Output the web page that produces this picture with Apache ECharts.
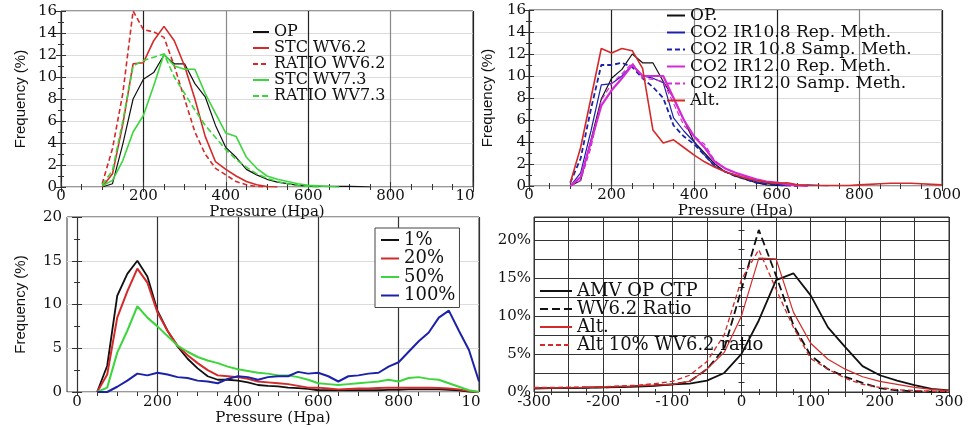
<!DOCTYPE html>
<html><head><meta charset="utf-8">
<script src="https://cdn.jsdelivr.net/npm/echarts@6/dist/echarts.min.js"></script>
<style>html,body{margin:0;padding:0;background:#fff}#c{width:968px;height:427px}</style>
</head><body><div id="c"></div>
<script>
// ---------- DATA ----------
// Panel 1 (top-left): pressure (hPa) vs frequency (%)
const pressureP1 = [100,125,150,175,200,225,250,275,300,325,350,375,400,425,450,475,500,525,550,575,600,625,650,675,700,725,750];
const opP1      = [0,0.3,3.9,8,9.8,10.4,12,11.2,11.2,9.4,8.2,5.6,3.6,2.7,1.6,1.1,0.7,0.45,0.3,0.15,0.1,0.05,0.05,0.05,0.05,0.03,0];
const stcWv62   = [0,1.2,5.7,11.2,11.3,13.3,14.6,13.3,11,8,4.6,2.3,1.6,1.0,0.5,0.2,0.05,0];
const ratioWv62 = [0.3,3.5,8.5,16,14.3,14.1,13.6,11,8,5,3,1.7,1.1,0.5,0.2,0.05,0];
const stcWv73   = [0.1,0.6,2.4,5,6.5,9.2,12.1,11,10.7,10.7,8.5,6.7,4.9,4.6,2.7,1.7,1.0,0.7,0.5,0.3,0.15,0.1,0.05,0];
const ratioWv73 = [0.2,1.5,6,11,11.5,11.8,12.1,10,8.5,7,5.6,4.5,3.4,2.5,1.8,1.2,0.8,0.5,0.3,0.15,0.05,0];

// Panel 2 (top-right)
const pressureP2 = [100,125,150,175,200,225,250,275,300,325,350,375,400,425,450,475,500,525,550,575,600,625,650,675,700,725,750,775,800,825,850,875,900,925,950,975,1000];
const opP2     = [0,0.5,4.2,7.9,9.8,10.6,12,11.2,11.2,9.5,8,6,4,3,2,1.3,0.9,0.6,0.3,0.1,0.05,0];
const co2Ir108Rep  = [0,1.2,5,9.2,9.3,10,11,10,9.8,9.4,6.2,5,4,2.8,1.8,1.3,1.0,0.7,0.4,0.25,0.15,0.1,0.05,0.1,0.05,0];
const co2Ir108Samp = [0.3,2.5,7,11,11,11.2,10.8,9.8,9,8,5.5,4.5,3.8,2.8,1.8,1.3,0.9,0.6,0.3,0.2,0.1,0.05,0];
const co2Ir120Rep  = [0,0.8,4,7.3,8.7,9.8,11,10,10,10,8,6,4.5,3.5,2.2,1.6,1.2,0.9,0.6,0.4,0.3,0.15,0.05,0];
const co2Ir120Samp = [0,0.5,3.5,7.8,9.3,10.2,11.2,9.8,9.7,9.5,7.5,5.5,4.5,3.8,2.3,1.6,1.2,0.8,0.6,0.4,0.3,0.1,0];
const altP2 = [0.3,3.5,8,12.5,12.1,12.5,12.3,10.7,5.1,3.9,4.2,3.5,2.8,2.2,1.7,1.3,1.0,0.7,0.5,0.35,0.25,0.3,0.1,0.05,0.05,0.05,0.05,0.05,0.1,0.15,0.2,0.25,0.25,0.25,0.2,0.15,0.1];

// Panel 3 (bottom-left)
const pressureP3 = [50,75,100,125,150,175,200,225,250,275,300,325,350,375,400,425,450,475,500,525,550,575,600,625,650,675,700,725,750,775,800,825,850,875,900,925,950,975,1000];
const pct1   = [0,3,11,13.5,15,13.2,9.3,7,5.2,3.8,2.7,1.8,1.4,1.4,1.3,1.1,0.8,0.7,0.65,0.5,0.45,0.35,0.2,0.2,0.2,0.2,0.2,0.2,0.2,0.25,0.25,0.3,0.3,0.3,0.3,0.25,0.2,0.05,0];
const pct20  = [0,2,8.5,11.5,14.1,12.5,9.1,7,5.3,4.2,3.3,2.5,1.9,1.8,1.7,1.5,1.2,1.1,1.0,0.9,0.7,0.5,0.5,0.4,0.3,0.35,0.4,0.4,0.45,0.5,0.5,0.5,0.5,0.5,0.45,0.4,0.3,0.1,0];
const pct50  = [0,0.5,4.5,7,9.8,8.5,7.5,6.4,5.3,4.6,4,3.6,3.3,2.9,2.6,2.4,2.2,2.1,1.9,1.9,1.7,1.4,1.0,0.9,0.8,0.9,1.0,1.1,1.2,1.4,1.2,1.6,1.7,1.5,1.4,1.0,0.6,0.2,0];
const pct100 = [0,0,0.6,1.3,2.1,1.9,2.2,2.0,1.7,1.6,1.3,1.2,1.0,1.5,1.8,1.7,1.4,1.7,1.8,1.8,2.3,2.1,2.2,1.8,1.2,1.8,1.9,2.1,2.2,2.9,3.4,4.6,5.8,6.8,8.5,9.3,7.0,4.8,1.2];

// Panel 4 (bottom-right): pressure difference vs frequency (%)
const diffP4 = [-300,-275,-250,-225,-200,-175,-150,-125,-100,-75,-50,-25,0,25,50,75,100,125,150,175,200,225,250,275,300];
const amvOpCtp   = [0.45,0.5,0.5,0.55,0.6,0.65,0.7,0.8,1.0,1.1,1.5,2.5,5.0,9.4,14.7,15.6,12.7,8.5,5.9,3.4,2.2,1.5,0.9,0.4,0.2];
const wv62Ratio  = [0.5,0.5,0.55,0.6,0.6,0.7,0.8,0.9,1.0,1.4,3.0,5.7,13.5,21.3,15.3,8.8,4.8,3.0,2.0,1.2,0.5,0.2,0.1,0.05,0];
const altP4      = [0.5,0.5,0.55,0.6,0.65,0.7,0.8,0.9,1.0,1.4,3.0,5.2,10,17.6,17.5,10.5,6.4,4.3,3.0,2.0,1.4,1.0,0.6,0.35,0.2];
const alt10Wv62  = [0.6,0.6,0.65,0.65,0.7,0.8,0.9,1.1,1.4,2.2,4.0,7.5,14.8,18.7,13.5,8.5,4.4,3.0,1.8,1.0,0.6,0.3,0.2,0.1,0.1];

// tick values
const pressureTicks = [0,200,400,600,800,1000];

// ---------- CHART ----------
const zip = (xs, ys) => ys.map((y, i) => [xs[i], y]);
const SERIF = 'DejaVu Serif';
const SANS = 'Liberation Sans';
const labelStyle = {fontFamily: SERIF, fontSize: 15, color: '#111'};
const RED = '#d42a2a', GREEN = '#3cd63c', BLUE = '#1c22a8', MAG = '#d62ad6', BLACK = '#111';

function tickCfg(len){ return {show:true, inside:true, length:len, lineStyle:{color:'#333'}}; }
function minorCfg(n){ return {show:true, splitNumber:n, length:3, lineStyle:{color:'#333'}}; }

function xMain(gi, o){
  return Object.assign({
    gridIndex: gi, type:'value', position:'bottom',
    axisLine:{show:false}, axisTick:tickCfg(5),
    splitLine:{show:true, lineStyle:{color:'#333', width:1}},
    nameLocation:'middle', nameGap:13,
    nameTextStyle:{fontFamily:SERIF, fontSize:15, color:'#111'}
  }, o);
}
function xTop(gi, o){
  return Object.assign({
    gridIndex: gi, type:'value', position:'top',
    axisLine:{show:false}, axisTick:tickCfg(5),
    axisLabel:{show:false}, splitLine:{show:false}
  }, o);
}
function yMain(gi, o){
  return Object.assign({
    gridIndex: gi, type:'value', position:'left',
    axisLine:{show:false}, axisTick:tickCfg(5),
    splitLine:{show:true, lineStyle:{color:'#dcdcdc', width:1}},
    nameLocation:'middle', nameRotate:90,
    nameTextStyle:{fontFamily:SANS, fontSize:15, color:'#111'}
  }, o);
}
function yRight(gi, o){
  return Object.assign({
    gridIndex: gi, type:'value', position:'right',
    axisLine:{show:false}, axisTick:tickCfg(5),
    axisLabel:{show:false}, splitLine:{show:false}
  }, o);
}

const plainNum = v => String(v);
const cutLabel = {
  formatter: v => v === 1000 ? '{c|10}' : String(v),
  rich: {c: Object.assign({}, labelStyle, {padding:[0,16,0,0]})}
};
const vColors = ['#222','#222','#888','#222','#888','#222'];

const gridBase = {show:true, borderColor:'#333', borderWidth:1, backgroundColor:'transparent', containLabel:false};
const legendBase = {orient:'vertical', padding:0, itemGap:0, selectedMode:false, itemStyle:{opacity:0}};

const option = {
  animation:false,
  backgroundColor:'#fff',
  grid:[
    Object.assign({left:61, top:11, width:412, height:176}, gridBase),
    Object.assign({left:529, top:10, width:413, height:176}, gridBase),
    Object.assign({left:67, top:217, width:412, height:175}, gridBase),
    Object.assign({left:534, top:217, width:415, height:175}, gridBase)
  ],
  xAxis:[
    xMain(0, {min:0, max:1000, interval:200, name:'Pressure (Hpa)', minorTick:minorCfg(4),
      axisLabel:Object.assign({margin:2}, labelStyle, cutLabel),
      splitLine:{show:true, lineStyle:{color:vColors, width:1.2}}}),
    xTop(0, {min:0, max:1000, interval:200, minorTick:minorCfg(4)}),
    xMain(1, {min:0, max:1000, interval:200, name:'Pressure (Hpa)', minorTick:minorCfg(4),
      axisLabel:Object.assign({margin:2, formatter:plainNum}, labelStyle),
      splitLine:{show:true, lineStyle:{color:vColors, width:1.2}}}),
    xTop(1, {min:0, max:1000, interval:200, minorTick:minorCfg(4)}),
    xMain(2, {min:-25, max:1000, name:'Pressure (Hpa)',
      axisTick:Object.assign(tickCfg(5), {customValues:pressureTicks}),
      axisLabel:Object.assign({margin:3, customValues:pressureTicks}, labelStyle, cutLabel),
      splitLine:{show:true, lineStyle:{color:'#333', width:1.2}}}),
    xTop(2, {min:-25, max:1000, axisTick:Object.assign(tickCfg(4), {customValues:[0,50,100,150,200,250,300,350,400,450,500,550,600,650,700,750,800,850,900,950]})}),
    xMain(3, {min:-300, max:300, interval:50, minorTick:minorCfg(2),
      axisLabel:Object.assign({margin:3, formatter: v => (v % 100 === 0 ? String(v) : '')}, labelStyle),
      splitLine:{show:true, lineStyle:{color:'#333', width:1}}}),
    xTop(3, {min:-300, max:300, interval:50, minorTick:minorCfg(2)})
  ],
  yAxis:[
    yMain(0, {min:0, max:16, interval:2, name:'Frequency (%)', nameGap:33, minorTick:minorCfg(2),
      axisLabel:Object.assign({margin:4}, labelStyle)}),
    yRight(0, {min:0, max:16, interval:2, minorTick:minorCfg(2)}),
    yMain(1, {min:0, max:16, interval:2, name:'Frequency (%)', nameGap:34, minorTick:minorCfg(2),
      axisLabel:Object.assign({margin:3}, labelStyle)}),
    yRight(1, {min:0, max:16, interval:2, minorTick:minorCfg(2)}),
    yMain(2, {min:0, max:20, interval:5, name:'Frequency (%)', nameGap:39, minorTick:minorCfg(2),
      axisLabel:Object.assign({margin:5}, labelStyle)}),
    yRight(2, {min:0, max:20, interval:5, minorTick:minorCfg(2)}),
    yMain(3, {min:0, max:23, interval:2.5, minorTick:minorCfg(2),
      axisLabel:Object.assign({margin:3, formatter: v => (v % 5 === 0 ? v + '%' : '')}, labelStyle),
      splitLine:{show:true, lineStyle:{color:'#333', width:1}}}),
    yRight(3, {min:0, max:23, interval:2.5, minorTick:minorCfg(2)})
  ],
  legend:[
    Object.assign({}, legendBase, {data:['OP','STC WV6.2','RATIO WV6.2','STC WV7.3','RATIO WV7.3'], left:252, top:24,
     itemWidth:16, itemHeight:12,
     textStyle:{fontFamily:SERIF, fontSize:16, lineHeight:12, color:'#111'}}),
    Object.assign({}, legendBase, {data:['OP.','CO2 IR10.8 Rep. Meth.','CO2 IR 10.8 Samp. Meth.','CO2 IR12.0 Rep. Meth.','CO2 IR12.0 Samp. Meth.','Alt.'],
     left:666, top:7, itemWidth:18, itemHeight:15,
     textStyle:{fontFamily:SERIF, fontSize:17, lineHeight:15, color:'#111'}}),
    Object.assign({}, legendBase, {data:['1%','20%','50%','100%'], left:375, top:228, itemWidth:18, itemHeight:14, itemGap:0.5,
     padding:[3,4,3,5], borderColor:'#444', borderWidth:1, backgroundColor:'#fff',
     textStyle:{fontFamily:SERIF, fontSize:18, lineHeight:14, color:'#111'}}),
    Object.assign({}, legendBase, {data:['AMV OP CTP','WV6.2 Ratio','Alt. ','Alt 10% WV6.2 ratio'], left:539, top:282,
     itemWidth:32, itemHeight:16,
     textStyle:{fontFamily:SERIF, fontSize:18, lineHeight:16, color:'#111'}})
  ],
  series:[]
};

function line(name, xs, ys, xi, yi, color, width, type, z){
  return {name, type:'line', xAxisIndex:xi, yAxisIndex:yi, data:zip(xs, ys), symbol:'none', showSymbol:false,
    color, lineStyle:{color, width, type:type||'solid'}, z:z||2, silent:true};
}
option.series.push(
  line('OP', pressureP1, opP1, 0, 0, BLACK, 1.2),
  line('STC WV6.2', pressureP1, stcWv62, 0, 0, RED, 1.6),
  line('RATIO WV6.2', pressureP1, ratioWv62, 0, 0, RED, 1.6, [5,3]),
  line('STC WV7.3', pressureP1, stcWv73, 0, 0, GREEN, 1.6),
  line('RATIO WV7.3', pressureP1, ratioWv73, 0, 0, GREEN, 1.6, [6,3]),

  line('OP.', pressureP2, opP2, 2, 2, BLACK, 1.2),
  line('CO2 IR10.8 Rep. Meth.', pressureP2, co2Ir108Rep, 2, 2, BLUE, 1.2),
  line('CO2 IR 10.8 Samp. Meth.', pressureP2, co2Ir108Samp, 2, 2, BLUE, 1.8, [5,3]),
  line('CO2 IR12.0 Rep. Meth.', pressureP2, co2Ir120Rep, 2, 2, MAG, 2.2),
  line('CO2 IR12.0 Samp. Meth.', pressureP2, co2Ir120Samp, 2, 2, MAG, 1.2, [5,3]),
  line('Alt.', pressureP2, altP2, 2, 2, RED, 1.6),

  line('1%', pressureP3, pct1, 4, 4, BLACK, 1.8),
  line('20%', pressureP3, pct20, 4, 4, RED, 2),
  line('50%', pressureP3, pct50, 4, 4, GREEN, 2),
  line('100%', pressureP3, pct100, 4, 4, BLUE, 2),

  line('AMV OP CTP', diffP4, amvOpCtp, 6, 6, BLACK, 1.8),
  line('WV6.2 Ratio', diffP4, wv62Ratio, 6, 6, BLACK, 1.8, [8,4]),
  line('Alt. ', diffP4, altP4, 6, 6, RED, 1.2),
  line('Alt 10% WV6.2 ratio', diffP4, alt10Wv62, 6, 6, RED, 1.3, [5,3])
);

const chart = echarts.init(document.getElementById('c'), null, {renderer:'canvas'});
chart.setOption(option);
</script>
</body></html>
